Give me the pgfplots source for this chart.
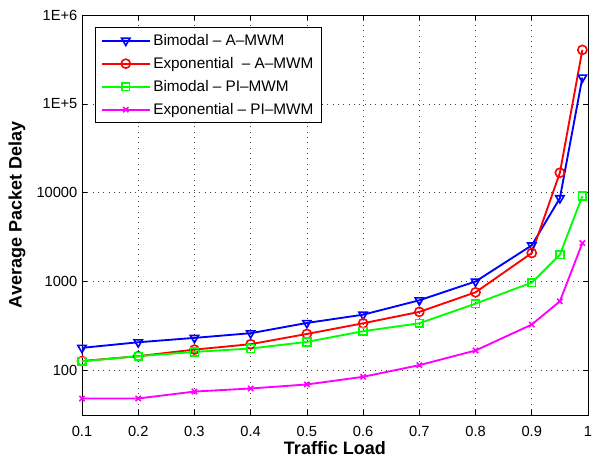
\documentclass[border=0pt]{standalone}
\usepackage{fontspec}
\setmainfont{Liberation Sans}
\usepackage{pgfplots}
\pgfplotsset{compat=1.18}
\definecolor{mblue}{rgb}{0,0,1}
\definecolor{mred}{rgb}{1,0,0}
\definecolor{mgreen}{rgb}{0,1,0}
\definecolor{mmag}{rgb}{1,0,1}
\begin{document}
\begin{tikzpicture}
\begin{axis}[
  scale only axis,
  width=379.5pt, height=300pt,
  ymode=log,
  xmin=0.1, xmax=1,
  ymin=31.6, ymax=1e6,
  xtick={0.1,0.2,0.3,0.4,0.5,0.6,0.7,0.8,0.9,1},
  xticklabels={0.1,0.2,0.3,0.4,0.5,0.6,0.7,0.8,0.9,1},
  ytick={100,1000,10000,100000,1000000},
  yticklabels={100,1000,10000,1E+5,1E+6},
  yminorticks=false,
  tick label style={font=\fontsize{11}{13}\selectfont},
  xticklabel style={yshift=-5pt},
  /pgf/number format/assume math mode=true,
  grid=major,
  major grid style={black!75, line width=0.5pt, dash pattern=on 0.6pt off 3.4pt},
  tick style={black, line width=0.5pt},
  major tick length=4pt,
  axis line style={line width=0.7pt},
  xlabel={\bfseries Traffic Load},
  ylabel={\bfseries Average Packet Delay},
  label style={font=\fontsize{13.5}{15}\bfseries\selectfont},
  xlabel style={at={(axis description cs:0.5,-0.0825)}, anchor=center},
  ylabel style={at={(axis description cs:-0.1285,0.5)}, anchor=center},
  legend cell align=left,
  legend style={at={(0.026,0.97)}, anchor=north west, draw=black, line width=0.7pt,
    font=\fontsize{11.5}{13}\selectfont, row sep=3.4pt, inner xsep=4pt, inner ysep=3pt},
  legend image code/.code={
    \draw[mark repeat=2,mark phase=2] plot coordinates {(0cm,0cm) (0.63cm,0cm) (1.26cm,0cm)};
  },
]
\addplot[mblue, line width=1.4pt, mark=triangle, mark size=3.6pt, mark options={rotate=180, solid, fill=none, line width=1.2pt}] coordinates {
 (0.1,180) (0.2,208) (0.3,233) (0.4,263) (0.5,343) (0.6,425) (0.7,617) (0.8,1005) (0.9,2560) (0.95,8700) (0.99,198000)};
\addlegendentry{Bimodal -- A--MWM}
\addplot[mred, line width=1.4pt, mark=o, mark size=3.4pt, mark options={line width=1.2pt}] coordinates {
 (0.1,128) (0.2,145) (0.3,172) (0.4,198) (0.5,258) (0.6,340) (0.7,457) (0.8,759) (0.9,2100) (0.95,16800) (0.99,405000)};
\addlegendentry{Exponential \ -- A--MWM}
\addplot[mgreen, line width=1.4pt, mark=square, mark size=2.9pt, mark options={line width=1.2pt}] coordinates {
 (0.1,127) (0.2,145) (0.3,162) (0.4,177) (0.5,210) (0.6,277) (0.7,340) (0.8,566) (0.9,975) (0.95,2010) (0.99,9190)};
\addlegendentry{Bimodal -- PI--MWM}
\addplot[mmag, line width=1.4pt, mark=x, mark size=2.8pt, mark options={line width=1.2pt}] coordinates {
 (0.1,48.4) (0.2,48.5) (0.3,58) (0.4,62.8) (0.5,69.7) (0.6,85) (0.7,115) (0.8,168) (0.9,329) (0.95,601) (0.99,2720)};
\addlegendentry{Exponential -- PI--MWM}
\end{axis}
\pgfresetboundingbox
\path[use as bounding box] (-61.5pt,-32.25pt) rectangle (382.5pt,311.25pt);
\end{tikzpicture}
\end{document}
